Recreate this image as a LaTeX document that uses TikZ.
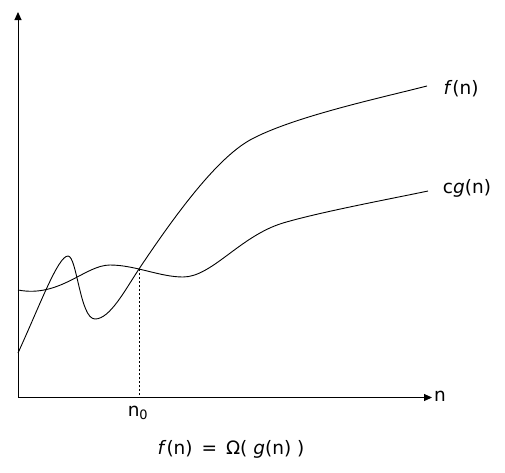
\documentclass[tikz,border=0pt]{standalone}
\usepackage{fontspec}
\setmainfont{DejaVu Sans}
\usetikzlibrary{arrows.meta}
\begin{document}
\begin{tikzpicture}[x={(1pt,0)},y={(0,-1pt)},
  axis/.style={line width=1pt,-{Triangle[length=8pt,width=7pt]}},
  curve/.style={line width=0.9pt},
  lbl/.style={font=\fontsize{18.5}{22}\selectfont,inner sep=0pt}]
\useasboundingbox (0,0) rectangle (505,472);
\coordinate (O) at (18,397.5);
\coordinate (ytop) at (18,12);
\coordinate (xend) at (432,397.5);
\draw[axis] (O) -- (ytop);
\draw[axis] (O) -- (xend);
% f(n)
\draw[curve] (18,353) .. controls (40,305) and (58,256) .. (68,256)
  .. controls (77,256) and (80,319) .. (95,319)
  .. controls (110,319) and (125,290) .. (139,269)
  .. controls (179,209) and (218,158) .. (250,140)
  .. controls (292,117) and (380,98) .. (427,86);
% cg(n)
\draw[curve] (18,290) .. controls (60,298) and (85,265) .. (110,265)
  .. controls (135,265) and (160,277) .. (183,277)
  .. controls (212,277) and (240,236) .. (283,223)
  .. controls (320,212) and (390,199) .. (428,191);
\coordinate (cross) at (139,269);
\coordinate (foot) at (139,397.5);
\draw[dash pattern=on 2pt off 2pt,line width=0.8pt] (cross) -- (foot);
\node[lbl] (fl) at (461,89) {\textit{f}(n)};
\node[lbl] (gl) at (467,188) {c\textit{g}(n)};
\node[lbl,anchor=west] (nl) at (434,396) {n};
\node[lbl] (n0) at (138,413) {n\textsubscript{0}};
\node[lbl] (cap) at (231,449) {\textit{f}(n) \,=\, Ω( \textit{g}(n) )};
\end{tikzpicture}
\end{document}
